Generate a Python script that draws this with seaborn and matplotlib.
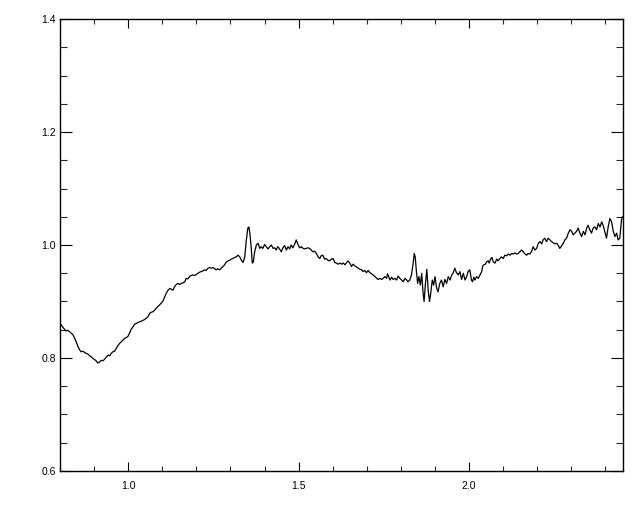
import matplotlib
matplotlib.use("Agg")
import matplotlib.pyplot as plt
from matplotlib.ticker import MultipleLocator, FixedLocator
import seaborn as sns
import pandas as pd

wavelength = [
    0.802, 0.809, 0.814, 0.818, 0.823, 0.831, 0.838, 0.843, 0.848, 0.853,
    0.858, 0.862, 0.867, 0.872, 0.877, 0.882, 0.887, 0.892, 0.897, 0.902,
    0.906, 0.911, 0.916, 0.921, 0.926, 0.931, 0.936, 0.941, 0.946, 0.950,
    0.955, 0.960, 0.965, 0.970, 0.975, 0.980, 0.985, 0.990, 0.994, 0.999,
    1.004, 1.009, 1.014, 1.019, 1.024, 1.029, 1.038, 1.048, 1.058, 1.063,
    1.068, 1.073, 1.078, 1.082, 1.087, 1.092, 1.097, 1.102, 1.107, 1.112,
    1.117, 1.122, 1.126, 1.131, 1.136, 1.141, 1.146, 1.151, 1.156, 1.161,
    1.166, 1.170, 1.175, 1.180, 1.185, 1.190, 1.195, 1.200, 1.205,
    1.210, 1.214, 1.219, 1.224, 1.229, 1.234, 1.239, 1.244, 1.249, 1.254,
    1.258, 1.263, 1.268, 1.273, 1.278, 1.283, 1.288, 1.293, 1.298, 1.302,
    1.307, 1.312, 1.317, 1.322, 1.327, 1.332, 1.337, 1.342, 1.346, 1.351,
    1.354, 1.357, 1.361, 1.364, 1.367, 1.371, 1.376, 1.381, 1.386, 1.390,
    1.395, 1.400, 1.405, 1.410, 1.415, 1.420, 1.425, 1.430, 1.434, 1.439,
    1.444, 1.449, 1.454, 1.459, 1.464, 1.469, 1.474, 1.478, 1.483, 1.488,
    1.493, 1.498, 1.503, 1.508, 1.513, 1.518, 1.522, 1.527, 1.532, 1.537,
    1.542, 1.547, 1.552, 1.557, 1.562, 1.566, 1.571, 1.576, 1.581, 1.586,
    1.591, 1.596, 1.601,
    1.606, 1.611, 1.616, 1.621, 1.626, 1.631, 1.636, 1.641, 1.645, 1.650,
    1.655, 1.660, 1.665, 1.670, 1.675, 1.680, 1.685, 1.689, 1.694, 1.699,
    1.704, 1.709, 1.714, 1.719, 1.724, 1.729, 1.733, 1.738, 1.743, 1.748,
    1.753, 1.758, 1.761, 1.765, 1.768, 1.773, 1.777, 1.782, 1.787, 1.792,
    1.797, 1.802, 1.807, 1.812, 1.817, 1.821, 1.826, 1.831, 1.836, 1.839,
    1.842, 1.845, 1.849, 1.853, 1.857, 1.861, 1.865, 1.868, 1.872, 1.876,
    1.880, 1.884, 1.888, 1.892, 1.896, 1.900, 1.905, 1.909, 1.914, 1.919,
    1.924, 1.929, 1.934, 1.939, 1.944, 1.949, 1.953, 1.958, 1.963, 1.968,
    1.973, 1.978, 1.983, 1.988, 1.993, 1.997, 2.002,
    2.007, 2.010, 2.014, 2.017, 2.022, 2.027, 2.032, 2.037, 2.040, 2.043,
    2.048, 2.051, 2.056, 2.059, 2.063, 2.067, 2.071, 2.076, 2.081, 2.085,
    2.090, 2.095, 2.100, 2.105, 2.110, 2.115, 2.120, 2.125, 2.129, 2.134,
    2.139, 2.144, 2.149, 2.154, 2.159, 2.164, 2.169, 2.173, 2.178, 2.183,
    2.188, 2.193, 2.198, 2.203, 2.208, 2.213, 2.217, 2.222, 2.227, 2.232,
    2.237, 2.242, 2.247, 2.252, 2.257, 2.261, 2.266, 2.271, 2.276, 2.281,
    2.286, 2.291, 2.296, 2.301, 2.305, 2.310, 2.315, 2.320, 2.325, 2.330,
    2.335, 2.340, 2.345, 2.349, 2.354, 2.359, 2.364, 2.369, 2.374, 2.379,
    2.384, 2.389, 2.393, 2.398, 2.403, 2.408, 2.413, 2.418, 2.423, 2.428,
    2.433, 2.437, 2.442, 2.447, 2.450,
]

flux = [
    0.860, 0.854, 0.850, 0.848, 0.849, 0.845, 0.841, 0.835, 0.828, 0.820,
    0.814, 0.811, 0.812, 0.810, 0.808, 0.807, 0.804, 0.802, 0.799, 0.797,
    0.795, 0.791, 0.793, 0.796, 0.795, 0.798, 0.802, 0.805, 0.804, 0.808,
    0.811, 0.812, 0.817, 0.822, 0.826, 0.829, 0.832, 0.835, 0.836, 0.838,
    0.844, 0.851, 0.855, 0.860, 0.861, 0.863, 0.865, 0.868, 0.873, 0.879,
    0.881, 0.882, 0.885, 0.888, 0.891, 0.894, 0.897, 0.901, 0.908, 0.915,
    0.920, 0.923, 0.922, 0.920, 0.926, 0.930, 0.932, 0.930, 0.932, 0.933,
    0.935, 0.941, 0.940, 0.944, 0.946, 0.947, 0.946, 0.948, 0.950,
    0.952, 0.953, 0.954, 0.956, 0.955, 0.959, 0.960, 0.959, 0.960, 0.958,
    0.956, 0.958, 0.956, 0.959, 0.962, 0.965, 0.970, 0.972, 0.973, 0.975,
    0.976, 0.978, 0.979, 0.982, 0.979, 0.973, 0.969, 0.979, 1.006, 1.030,
    1.032, 1.021, 0.994, 0.968, 0.970, 0.988, 1.000, 1.003, 0.994, 0.997,
    0.994, 1.001, 0.997, 0.993, 0.997, 1.000, 0.994, 0.995, 0.991, 0.997,
    0.993, 0.988, 0.995, 0.999, 0.991, 0.997, 0.993, 1.000, 0.995, 1.001,
    1.009, 1.001, 0.995, 0.997, 0.994, 0.993, 0.994, 0.995, 0.994, 0.991,
    0.988, 0.989, 0.985, 0.979, 0.976, 0.981, 0.982, 0.975, 0.976, 0.973,
    0.972, 0.975, 0.976,
    0.969, 0.968, 0.966, 0.968, 0.966, 0.968, 0.965, 0.969, 0.972, 0.968,
    0.962, 0.966, 0.963, 0.961, 0.959, 0.957, 0.956, 0.953, 0.955, 0.951,
    0.955, 0.951, 0.949, 0.947, 0.944, 0.941, 0.939, 0.941, 0.939, 0.941,
    0.944, 0.941, 0.949, 0.943, 0.938, 0.943, 0.939, 0.941, 0.938, 0.945,
    0.941, 0.938, 0.935, 0.941, 0.938, 0.935, 0.938, 0.947, 0.968, 0.985,
    0.979, 0.956, 0.932, 0.944, 0.929, 0.950, 0.915, 0.900, 0.932, 0.957,
    0.920, 0.900, 0.917, 0.938, 0.929, 0.944, 0.923, 0.917, 0.932, 0.938,
    0.926, 0.939, 0.932, 0.944, 0.938, 0.947, 0.950, 0.959, 0.951, 0.947,
    0.953, 0.939, 0.950, 0.938, 0.944, 0.953, 0.956,
    0.938, 0.935, 0.943, 0.938, 0.944, 0.941, 0.947, 0.953, 0.963, 0.965,
    0.966, 0.970, 0.972, 0.968, 0.975, 0.978, 0.970, 0.968, 0.975, 0.972,
    0.976, 0.979, 0.976, 0.982, 0.981, 0.984, 0.982, 0.985, 0.984, 0.986,
    0.984, 0.985, 0.988, 0.991, 0.988, 0.984, 0.982, 0.985, 0.984, 0.988,
    0.997, 0.991, 0.994, 1.003, 1.006, 1.002, 1.009, 1.012, 1.006, 1.012,
    1.009, 1.006, 1.004, 1.002, 1.003, 1.000, 0.994, 0.998, 1.003, 1.009,
    1.012, 1.021, 1.027, 1.024, 1.018, 1.021, 1.024, 1.030, 1.021, 1.015,
    1.024, 1.018, 1.030, 1.035, 1.027, 1.021, 1.030, 1.032, 1.027, 1.038,
    1.032, 1.041, 1.035, 1.024, 1.012, 1.032, 1.047, 1.041, 1.024, 1.015,
    1.021, 1.009, 1.012, 1.044, 1.050,
]

x_major_ticks = [1.0, 1.5, 2.0]
x_tick_labels = ["1.0", "1.5", "2.0"]
y_major_ticks = [0.6, 0.8, 1.0, 1.2, 1.4]
y_tick_labels = ["0.6", "0.8", "1.0", "1.2", "1.4"]

df = pd.DataFrame({"wavelength": wavelength, "flux": flux})

sns.set_theme(style="white")
plt.rcParams["font.family"] = ["Liberation Sans", "DejaVu Sans"]

fig = plt.figure(figsize=(6.4, 5.12), dpi=100)
ax = fig.add_axes([60 / 640, 1 - 471 / 512, 562.5 / 640, 452 / 512])

sns.lineplot(data=df, x="wavelength", y="flux", ax=ax, color="black",
             linewidth=0.9, estimator=None, sort=False)

ax.set_xlim(0.8, 2.45)
ax.set_ylim(0.6, 1.4)
ax.set_xlabel("")
ax.set_ylabel("")

ax.xaxis.set_major_locator(FixedLocator(x_major_ticks))
ax.set_xticklabels(x_tick_labels)
ax.xaxis.set_minor_locator(MultipleLocator(0.1))
ax.yaxis.set_major_locator(FixedLocator(y_major_ticks))
ax.set_yticklabels(y_tick_labels)
ax.yaxis.set_minor_locator(MultipleLocator(0.05))

for s in ax.spines.values():
    s.set_visible(True)
    s.set_color("black")
    s.set_linewidth(1.0)

ax.tick_params(axis="x", which="major", direction="in", length=6.5, width=0.8,
               top=True, bottom=True, labelsize=7.5, pad=7, colors="black")
ax.tick_params(axis="x", which="minor", direction="in", length=3.6, width=0.8,
               top=True, bottom=True)
ax.tick_params(axis="y", which="major", direction="in", length=8.6, width=0.8,
               left=True, right=True, labelsize=7.5, pad=3, colors="black")
ax.tick_params(axis="y", which="minor", direction="in", length=5.0, width=0.8,
               left=True, right=True)
ax.grid(False)

fig.savefig("out.png", dpi=100, facecolor="white")
